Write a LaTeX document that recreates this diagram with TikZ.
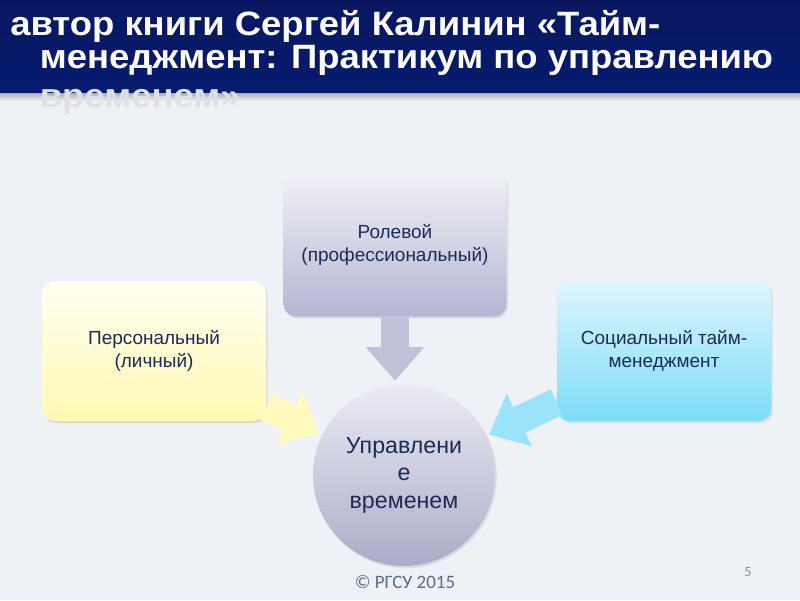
\documentclass[tikz,border=0pt]{standalone}
\usepackage{fontspec}
\setmainfont{Liberation Sans}
\newfontfamily\titlefont[FakeStretch=1.08]{Liberation Sans}
\newfontfamily\footfont{Carlito}
\usetikzlibrary{arrows.meta,positioning,shadows}
\definecolor{slidebg}{HTML}{EEF1F6}
\definecolor{navytop}{HTML}{0A1760}
\definecolor{navylow}{HTML}{051B6E}
\definecolor{ink}{HTML}{1C2A58}
\definecolor{lavtop}{HTML}{F1F1F7}
\definecolor{lavlow}{HTML}{B4B6D2}
\definecolor{yeltop}{HTML}{FFFFF2}
\definecolor{yellow}{HTML}{FFF8B2}
\definecolor{skytop}{HTML}{DDF6FD}
\definecolor{skylow}{HTML}{7DDCF8}
\definecolor{footgray}{HTML}{5C6C8C}

\begin{document}
\begin{tikzpicture}[x=0.025cm,y=-0.025cm,
      font=\fontsize{13.5}{16.5}\selectfont,
      card/.style={rounded corners=9pt,minimum width=5.6cm,minimum height=3.5cm,align=center,text=ink,
        drop shadow={opacity=0.18,shadow xshift=1.2pt,shadow yshift=-1.5pt}},
      hub/.style={circle,minimum size=4.55cm,inner sep=0pt,align=center,text=ink,top color=lavtop!90!lavlow,bottom color=lavlow!95!black,
        font=\fontsize{16.5}{19.5}\selectfont,drop shadow={opacity=0.18,shadow xshift=1.2pt,shadow yshift=-1.5pt}},
      fat/.style={line width=20pt,-{Triangle[length=24pt,width=40pt]},shorten >=2pt}]
    \useasboundingbox (0,0) rectangle (800,600);
    \fill[slidebg] (0,0) rectangle (800,600);
    % title band
    \shade[top color=black!35,bottom color=slidebg] (0,92) rectangle (800,101);
    \shade[top color=navytop,bottom color=navylow] (0,0) rectangle (800,92);
    \node[anchor=base west,inner sep=0pt,align=left,text=white,font=\titlefont\bfseries\fontsize{24}{23.5}\selectfont] (title) at (10,107)
      {автор книги Сергей Калинин «Тайм-\\\hspace*{21pt}менеджмент: Практикум по управлению\\[4pt]\hspace*{21pt}\textcolor{black!12}{временем»}};
    % diagram
    \node[hub] (circ) at (404,475) {Управлени\\е\\временем};
    \node[card,top color=lavtop,bottom color=lavlow,minimum width=5.575cm,minimum height=3.575cm] (role) at (395,245) {Ролевой\\(профессиональный)};
    \node[card,top color=yeltop,bottom color=yellow] (pers) at (154,351) {Персональный\\(личный)};
    \node[card,top color=skytop,bottom color=skylow,minimum width=5.35cm] (soc) at (664,351) {Социальный тайм-\\менеджмент};
    \draw[fat,draw=lavlow!80!lavtop] (role.south) -- (role.south |- circ.north);
    \draw[fat,draw=yellow!85!white] (pers) -- (circ);
    \draw[fat,draw=skylow!70!skytop] (soc) -- (circ);
    % footer
    \node[text=footgray,font=\footfont\fontsize{13.5}{15}\selectfont] (foot) at (405,582) {© РГСУ 2015};
    \node[text=black!45,font=\footfont\fontsize{10}{12}\selectfont] (page) at (748,572) {5};
  \end{tikzpicture}
\end{document}
